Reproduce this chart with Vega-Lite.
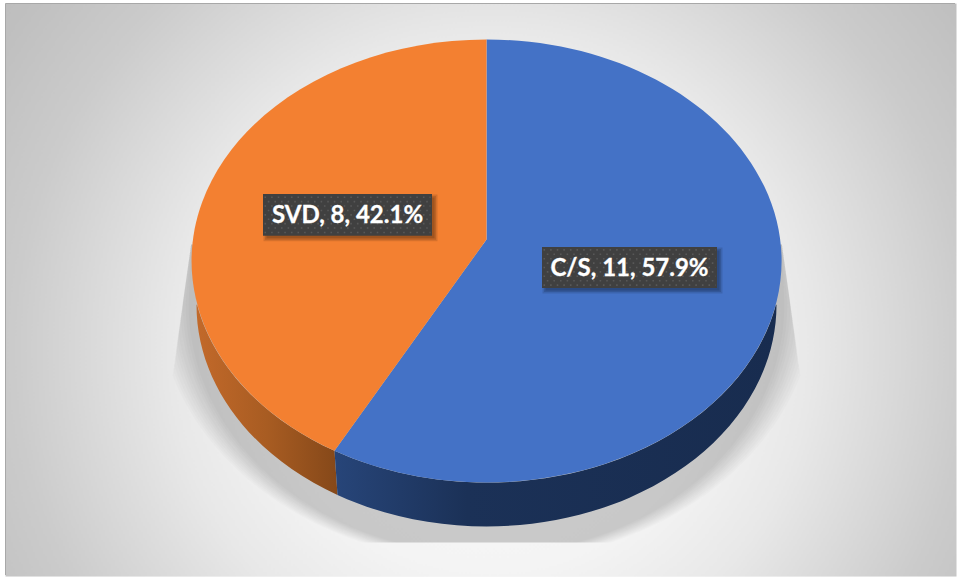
{
  "$schema": "https://vega.github.io/schema/vega-lite/v6.json",
  "width": 957,
  "height": 577,
  "autosize": {"type": "fit", "contains": "padding"},
  "padding": 0,
  "background": "#ffffff",
  "config": {"view": {"stroke": null}},
  "data": {"values": [
    {"category": "C/S", "count": 11, "share": 57.9, "label": "C/S, 11, 57.9%"},
    {"category": "SVD", "count": 8, "share": 42.1, "label": "SVD, 8, 42.1%"}
  ]},
  "resolve": {"scale": {"shape": "independent"}},
  "layer": [
    {
      "data": {"values": [{"part": "panel"}]},
      "mark": {"type": "point", "filled": true, "opacity": 1, "size": 4,
        "shape": "M-472.5-284.5H478.5V288.5H-472.5Z",
        "fill": {"gradient": "radial", "x1": 0.51, "y1": 0.563, "r1": 0, "x2": 0.51, "y2": 0.563, "r2": 0.66,
          "stops": [
            {"offset": 0, "color": "#f9f9f9"},
            {"offset": 0.35, "color": "#f4f4f4"},
            {"offset": 0.51, "color": "#e8e8e8"},
            {"offset": 0.64, "color": "#d9d9d9"},
            {"offset": 0.76, "color": "#cbcbcb"},
            {"offset": 0.92, "color": "#bfbfbf"},
            {"offset": 1, "color": "#bcbcbc"}
          ]}
      },
      "encoding": {}
    },
    {
      "data": {"values": [{"part": "panel edge"}]},
      "mark": {"type": "point", "filled": false, "opacity": 1, "size": 4, "stroke": "#a8a8a8", "strokeWidth": 1,
        "shape": "M-472.5 287V-284.5H477"},
      "encoding": {}
    },
    {
      "data": {"values": [{"step": "a"}, {"step": "b"}, {"step": "c"}, {"step": "d"}, {"step": "e"}, {"step": "f"}, {"step": "g"}, {"step": "h"}, {"step": "i"}, {"step": "j"}, {"step": "k"}]},
      "mark": {"type": "point", "filled": true, "opacity": 0.0157, "size": 4, "fill": "#000000"},
      "encoding": {
        "shape": {"field": "step", "type": "nominal", "legend": null,
          "scale": {"domain": ["a", "b", "c", "d", "e", "f", "g", "h", "i", "j", "k"], "range": [
            "M-287-43.5L-305.5 87.5A330 268 0 0 0 -116.5 254.5L133.5 254.5A330 268 0 0 0 322.5 87.5L304-43.5Z",
            "M-287-43.5L-304.5 83A326.8 266.2 0 0 0 -113.3 254.5L130.3 254.5A326.8 266.2 0 0 0 321.5 83L304-43.5Z",
            "M-287-43.5L-303.5 78.5A323.6 264.4 0 0 0 -110.1 254.5L127.1 254.5A323.6 264.4 0 0 0 320.5 78.5L304-43.5Z",
            "M-287-43.5L-302.75 70A320.4 262.6 0 0 0 -106.8 254.5L123.8 254.5A320.4 262.6 0 0 0 319.75 70L304-43.5Z",
            "M-287-43.5L-302 61.5A317.2 260.8 0 0 0 -103.5 254.5L120.5 254.5A317.2 260.8 0 0 0 319 61.5L304-43.5Z",
            "M-287-43.5L-300.75 54A314 259 0 0 0 -100.15 254.5L117.15 254.5A314 259 0 0 0 317.75 54L304-43.5Z",
            "M-287-43.5L-299.5 46.5A310.8 257.2 0 0 0 -96.8 254.5L113.8 254.5A310.8 257.2 0 0 0 316.5 46.5L304-43.5Z",
            "M-287-43.5L-297.5 30.5A307.6 255.4 0 0 0 -93.35 254.5L110.35 254.5A307.6 255.4 0 0 0 314.5 30.5L304-43.5Z",
            "M-287-43.5L-295.5 14.5A304.4 253.6 0 0 0 -89.9 254.5L106.9 254.5A304.4 253.6 0 0 0 312.5 14.5L304-43.5Z",
            "M-287-43.5L-292.5 15.5A301.2 251.8 0 0 0 -86.2 254.5L103.2 254.5A301.2 251.8 0 0 0 309.5 15.5L304-43.5Z",
            "M-287-43.5L-289.5 16.5A298 250 0 0 0 -82.5 254.5L99.5 254.5A298 250 0 0 0 306.5 16.5L304-43.5Z"
          ]}}
      }
    },
    {
      "transform": [{"filter": "datum.category === 'SVD'"}],
      "mark": {"type": "point", "filled": true, "opacity": 1, "size": 4,
        "shape": "M-281 16.5A295 221.5 0 0 0 -143.5 162.8L-140.5 207A290 221.5 0 0 1 -281.5 17Z",
        "fill": {"gradient": "linear", "x1": 0, "y1": 0, "x2": 1, "y2": 0,
          "stops": [{"offset": 0, "color": "#c2692a"}, {"offset": 0.5, "color": "#a85c22"}, {"offset": 1, "color": "#854819"}]}
      },
      "encoding": {}
    },
    {
      "transform": [{"filter": "datum.category === 'C/S'"}],
      "mark": {"type": "point", "filled": true, "opacity": 1, "size": 4,
        "shape": "M-143.5 162.8A295 221.5 0 0 0 298 16.5L298.5 17A290 221.5 0 0 1 -140.5 207Z",
        "fill": {"gradient": "linear", "x1": 0, "y1": 0, "x2": 1, "y2": 0,
          "stops": [{"offset": 0, "color": "#274579"}, {"offset": 0.3, "color": "#1b3157"}, {"offset": 1, "color": "#182c4f"}]}
      },
      "encoding": {}
    },
    {
      "mark": {"type": "point", "filled": true, "opacity": 1, "size": 4},
      "encoding": {
        "shape": {"field": "category", "type": "nominal", "legend": null,
          "scale": {"domain": ["C/S", "SVD"], "range": [
            "M8.5-48.5L8.5-248.5A295 221.5 0 1 1 -143.5 162.8Z",
            "M8.5-48.5L8.5-248.5A295 221.5 0 0 0 -143.5 162.8Z"
          ]}},
        "fill": {"field": "category", "type": "nominal", "legend": null,
          "scale": {"domain": ["C/S", "SVD"], "range": ["#4472c6", "#f38031"]}}
      }
    },
    {
      "mark": {"type": "point", "filled": true, "opacity": 0.12, "size": 4, "fill": "#000000"},
      "encoding": {
        "x": {"field": "category", "type": "nominal", "axis": null, "scale": {"type": "point", "padding": 0, "domain": ["C/S", "SVD"], "range": [629.5, 347.5]}},
        "y": {"field": "category", "type": "nominal", "axis": null, "scale": {"type": "point", "padding": 0, "domain": ["C/S", "SVD"], "range": [267.5, 214.85]}},
        "shape": {"field": "category", "type": "nominal", "legend": null,
          "scale": {"domain": ["C/S", "SVD"], "range": ["M-87-20H93V26H-87Z", "M-84-20.35H90V26.35H-84Z"]}}
      }
    },
    {
      "mark": {"type": "point", "filled": true, "opacity": 0.12, "size": 4, "fill": "#000000"},
      "encoding": {
        "x": {"field": "category", "type": "nominal", "axis": null},
        "y": {"field": "category", "type": "nominal", "axis": null},
        "shape": {"field": "category", "type": "nominal", "legend": null,
          "scale": {"domain": ["C/S", "SVD"], "range": ["M-85.5-18.5H91.5V24.5H-85.5Z", "M-82.5-18.85H88.5V24.85H-82.5Z"]}}
      }
    },
    {
      "mark": {"type": "point", "filled": true, "opacity": 0.14, "size": 4, "fill": "#000000"},
      "encoding": {
        "x": {"field": "category", "type": "nominal", "axis": null},
        "y": {"field": "category", "type": "nominal", "axis": null},
        "shape": {"field": "category", "type": "nominal", "legend": null,
          "scale": {"domain": ["C/S", "SVD"], "range": ["M-84-17H90V23H-84Z", "M-81-17.35H87V23.35H-81Z"]}}
      }
    },
    {
      "mark": {"type": "point", "filled": true, "opacity": 1, "size": 4, "fill": "#404040"},
      "encoding": {
        "x": {"field": "category", "type": "nominal", "axis": null},
        "y": {"field": "category", "type": "nominal", "axis": null},
        "shape": {"field": "category", "type": "nominal", "legend": null,
          "scale": {"domain": ["C/S", "SVD"], "range": ["M-87.5-20.5H87.5V20.5H-87.5Z", "M-84.5-20.85H84.5V20.85H-84.5Z"]}}
      }
    },
    {
      "mark": {"type": "point", "filled": false, "opacity": 1, "size": 4, "stroke": "#585858", "strokeWidth": 1.6, "strokeDash": [1.6, 5]},
      "encoding": {
        "x": {"field": "category", "type": "nominal", "axis": null},
        "y": {"field": "category", "type": "nominal", "axis": null},
        "shape": {"field": "category", "type": "nominal", "legend": null,
          "scale": {"domain": ["C/S", "SVD"], "range": [
            "M-86-17.6H86M-82.7-13.2H86M-86-8.8H86M-82.7-4.4H86M-86 0H86M-82.7 4.4H86M-86 8.8H86M-82.7 13.2H86M-86 17.6H86",
            "M-83-17.6H83M-79.7-13.2H83M-83-8.8H83M-79.7-4.4H83M-83 0H83M-79.7 4.4H83M-83 8.8H83M-79.7 13.2H83M-83 17.6H83"
          ]}}
      }
    },
    {
      "mark": {"type": "text", "font": "Lato", "fontWeight": "bold", "fontSize": 24, "fill": "#ffffff", "stroke": "#ffffff", "strokeWidth": 0.3, "align": "center", "baseline": "middle", "dy": 1},
      "encoding": {
        "x": {"field": "category", "type": "nominal", "axis": null},
        "y": {"field": "category", "type": "nominal", "axis": null},
        "text": {"field": "label", "type": "nominal"}
      }
    }
  ]
}
